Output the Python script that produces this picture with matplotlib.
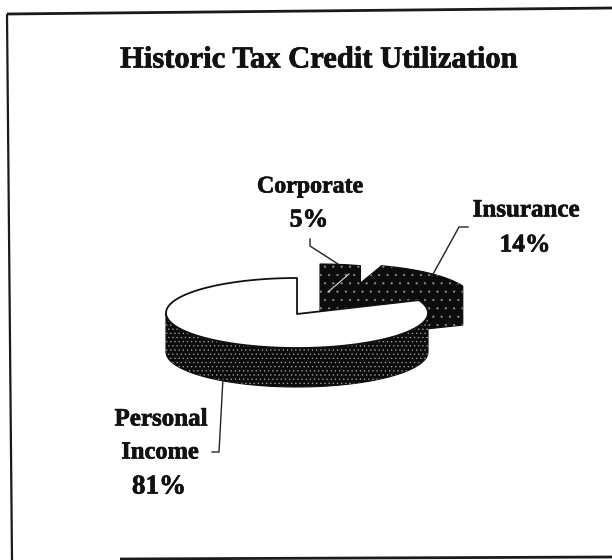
import numpy as np
import matplotlib
matplotlib.use("Agg")
import matplotlib.pyplot as plt
from matplotlib.patches import Polygon
import matplotlib.patheffects as pe

title = "Historic Tax Credit Utilization"
categories = ["Personal\nIncome", "Corporate", "Insurance"]
shares = [81, 5, 14]

plt.rcParams['font.family'] = ['Liberation Serif', 'DejaVu Serif']
plt.rcParams['hatch.linewidth'] = 0.4
W, H = 612, 560
fig = plt.figure(figsize=(W/100, H/100), dpi=100, facecolor='white')
ax = fig.add_axes([0, 0, 1, 1])
ax.set_xlim(0, W); ax.set_ylim(H, 0); ax.axis('off')

RX, RY, DEPTH = 131, 35, 39
DARK = '#0c0c0c'

a_corp = 90 - shares[1] * 3.6
a_ins = a_corp - shares[2] * 3.6

def arc(cx, cy, a0, a1, n=80):
    t = np.radians(np.linspace(a0, a1, n))
    return np.column_stack([cx + RX*np.cos(t), cy - RY*np.sin(t)])

def stipple(pts, z, hatch, dot):
    ax.add_patch(Polygon(pts, closed=True, fc=DARK, ec=DARK, lw=0.8, zorder=z))
    ax.add_patch(Polygon(pts, closed=True, fc='none', ec=dot, lw=0, hatch=hatch, zorder=z+0.1))

def wedge(cx, cy, a0, a1, z):
    top_arc = arc(cx, cy, a0, a1)
    hull = np.vstack([[cx, cy], top_arc, top_arc[-1] + [0, DEPTH], [cx, cy + DEPTH]])
    stipple(hull, z, '..', '#8a8a8a')

wedge(341, 299, a_corp, a_ins, 2)
wedge(320, 299, 90, a_corp, 3)
ax.plot([349, 328], [274, 292], color='#d8d8d8', lw=0.8, zorder=4)

cx, cy = 297, 313
front = arc(cx, cy, 180, 360)
wall = np.vstack([front, front[::-1] + [0, DEPTH]])
stipple(wall, 5, '....', '#a8a8a8')
top_arc = arc(cx, cy, 90, 90 + shares[0]*3.6, 200)
ax.add_patch(Polygon(np.vstack([[cx, cy+1], top_arc]), closed=True, fc='white', ec='#111111',
                     lw=1.3, joinstyle='round', zorder=6))

for xs, ys, lw in [([7, 612], [14, 8], 2.0), ([7, 12], [14, 560], 1.6), ([120, 612], [559, 557], 2.0)]:
    ax.plot(xs, ys, color='#1a1a1a', lw=lw, zorder=1, solid_capstyle='butt')

for xs, ys in [([310, 310, 338], [239, 246, 264]),
               ([468, 459, 432], [227, 227, 276]),
               ([223, 219, 212], [378, 452, 452])]:
    ax.plot(xs, ys, color='#222222', lw=1.0, zorder=7)

tkw = dict(ha='center', va='center', fontweight='bold', color='#111111', zorder=8,
           path_effects=[pe.withStroke(linewidth=0.5, foreground='#111111')])
ax.text(319, 60, title, fontsize=22, **tkw)
ax.text(310, 187, categories[1], fontsize=17.2, **tkw)
ax.text(309, 220, f"{shares[1]}%", fontsize=18.5, **tkw)
ax.text(526, 210, categories[2], fontsize=18, **tkw)
ax.text(525, 245, f"{shares[2]}%", fontsize=18.3, **tkw)
ax.text(161, 419, "Personal", fontsize=18, **tkw)
ax.text(160, 453, "Income", fontsize=17.6, **tkw)
ax.text(159, 487, f"{shares[0]}%", fontsize=19.5, **tkw)

fig.savefig('out.png', dpi=100, facecolor='white')
